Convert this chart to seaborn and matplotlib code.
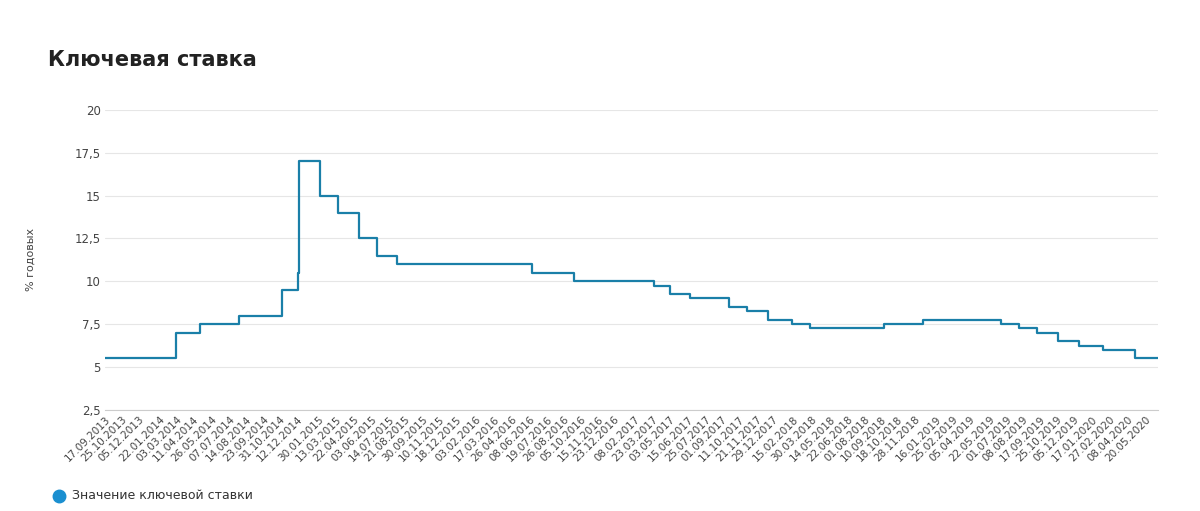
import pandas as pd
import numpy as np
import matplotlib.pyplot as plt
import seaborn as sns

# даты изменения ключевой ставки и значения
change_dates = ["17.09.2013", "03.03.2014", "28.04.2014", "28.07.2014", "05.11.2014",
                "12.12.2014", "16.12.2014", "02.02.2015", "16.03.2015", "05.05.2015",
                "16.06.2015", "03.08.2015", "14.06.2016", "19.09.2016", "27.03.2017",
                "02.05.2017", "19.06.2017", "18.09.2017", "30.10.2017", "18.12.2017",
                "12.02.2018", "26.03.2018", "17.09.2018", "17.12.2018", "17.06.2019",
                "29.07.2019", "09.09.2019", "28.10.2019", "16.12.2019", "10.02.2020",
                "27.04.2020", "19.06.2020"]
rates = [5.5, 7.0, 7.5, 8.0, 9.5, 10.5, 17.0, 15.0, 14.0, 12.5, 11.5, 11.0, 10.5, 10.0,
         9.75, 9.25, 9.0, 8.5, 8.25, 7.75, 7.5, 7.25, 7.5, 7.75, 7.5, 7.25, 7.0, 6.5,
         6.25, 6.0, 5.5, 5.5]

tick_labels = ["17.09.2013", "25.10.2013", "05.12.2013", "22.01.2014", "03.03.2014",
               "11.04.2014", "26.05.2014", "07.07.2014", "14.08.2014", "23.09.2014",
               "31.10.2014", "12.12.2014", "30.01.2015", "13.03.2015", "22.04.2015",
               "03.06.2015", "14.07.2015", "21.08.2015", "30.09.2015", "10.11.2015",
               "18.12.2015", "03.02.2016", "17.03.2016", "26.04.2016", "08.06.2016",
               "19.07.2016", "26.08.2016", "05.10.2016", "15.11.2016", "23.12.2016",
               "08.02.2017", "23.03.2017", "03.05.2017", "15.06.2017", "25.07.2017",
               "01.09.2017", "11.10.2017", "21.11.2017", "29.12.2017", "15.02.2018",
               "30.03.2018", "14.05.2018", "22.06.2018", "01.08.2018", "10.09.2018",
               "18.10.2018", "28.11.2018", "16.01.2019", "25.02.2019", "05.04.2019",
               "22.05.2019", "01.07.2019", "08.08.2019", "17.09.2019", "25.10.2019",
               "05.12.2019", "17.01.2020", "27.02.2020", "08.04.2020", "20.05.2020"]

df = pd.DataFrame({"date": pd.to_datetime(change_dates, format="%d.%m.%Y"), "rate": rates})

sns.set_style("white")
plt.rcParams['font.family'] = ['DejaVu Sans']
fig = plt.figure(figsize=(12, 5.11), dpi=100)
ax = fig.add_axes([0.0875, 0.198, 0.8775, 0.587])

color = "#1a7fa8"
sns.lineplot(data=df, x="date", y="rate", drawstyle="steps-post", color=color,
             linewidth=1.6, ax=ax, legend=False)

ax.set_xlim(df.date.iloc[0], df.date.iloc[-1])
ax.set_ylim(2.5, 20)
yt = [2.5, 5, 7.5, 10, 12.5, 15, 17.5, 20]
ax.set_yticks(yt)
ax.set_yticklabels([("%g" % v).replace(".", ",") for v in yt], fontsize=8.5, color="#444444")
ax.set_xticks(pd.to_datetime(tick_labels, format="%d.%m.%Y"))
ax.set_xticklabels(tick_labels, rotation=45, ha="right", rotation_mode="anchor",
                   fontsize=7.5, color="#444444")
ax.grid(axis="y", color="#e6e6e6", linewidth=0.8)
for s in ["top", "right", "left"]:
    ax.spines[s].set_visible(False)
ax.spines["bottom"].set_color("#cccccc")
ax.tick_params(axis="both", length=0, pad=3)
ax.set_xlabel("")
ax.set_ylabel("% годовых", fontsize=8, color="#444444", labelpad=28)

fig.text(0.04, 0.87, "Ключевая ставка", fontsize=15, fontweight="bold", color="#222222")
fig.lines.append(plt.Line2D([0.049], [0.03], marker="o", markersize=9, color="#1a8fd0",
                            transform=fig.transFigure))
fig.text(0.06, 0.03, "Значение ключевой ставки", fontsize=9, color="#333333", va="center")

fig.savefig("out.png", dpi=100)
